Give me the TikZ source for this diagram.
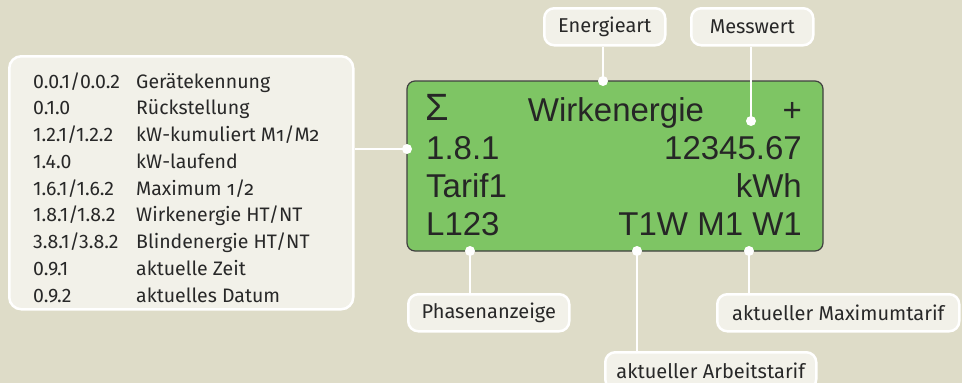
\documentclass[tikz,border=0pt]{standalone}
\usepackage{fontspec}
\setmainfont{Fira Sans}
\newfontfamily\lcdfont{Liberation Sans}
\usetikzlibrary{positioning}
\definecolor{bgcol}{RGB}{222,220,200}
\definecolor{boxcol}{RGB}{242,241,233}
\definecolor{lcdcol}{RGB}{126,197,100}
\definecolor{inkcol}{RGB}{40,40,40}
\newcommand{\osf}[1]{{\addfontfeature{Numbers=OldStyle}#1}}
\tikzstyle{lbl} = [rectangle, rounded corners=10pt, draw=white, line width=2.5pt, fill=boxcol, minimum height=37pt, inner xsep=11pt, text=inkcol, font=\fontsize{20}{24}\selectfont]
\tikzstyle{lcd} = [rectangle, rounded corners=8pt, draw=black!75, line width=1.2pt, fill=lcdcol, minimum width=416pt, minimum height=170pt]
\tikzstyle{lcdtxt} = [inner sep=0pt, text=black!85, font=\lcdfont\fontsize{33}{33}\selectfont]
\tikzstyle{wire} = [draw=white, line width=2.5pt]

\begin{document}
\begin{tikzpicture}[x=1pt, y=-1pt]
    \useasboundingbox (0,0) rectangle (962,383);
    \clip (0,0) rectangle (962,383);
    \fill [bgcol] (0,0) rectangle (962,383);

    % display
    \node (disp) [lcd] at (615,166) {};
    \node (sig)   [lcdtxt, anchor=base west, font=\lcdfont\fontsize{38}{38}\selectfont] at (425,120) {Σ};
    \node (art)   [lcdtxt, anchor=base] at (616,121) {Wirkenergie};
    \node (plus)  [lcdtxt, anchor=base east] at (802,121) {+};
    \node (obis)  [lcdtxt, anchor=base west] at (426,159) {1.8.1};
    \node (wert)  [lcdtxt, anchor=base east] at (802,159) {12345.67};
    \node (tarif) [lcdtxt, anchor=base west] at (426,197) {Tarif1};
    \node (unit)  [lcdtxt, anchor=base east] at (802,197) {kWh};
    \node (phase) [lcdtxt, anchor=base west] at (426,235) {L123};
    \node (flags) [lcdtxt, anchor=base east] at (802,235) {T1W M1 W1};

    \coordinate (dart)   at (603,81);
    \coordinate (dwert)  at (751,121);
    \coordinate (dlist)  at (407,149);
    \coordinate (dphase) at (470,251);
    \coordinate (darb)   at (637,251);
    \coordinate (dmax)   at (749,251);

    % labels
    \node (list) [lbl, rounded corners=12pt, minimum width=344pt, minimum height=253pt, anchor=north west] at (8,55) {};
    \node (listtxt) [anchor=base west, inner sep=0pt, text=inkcol, font=\fontsize{19.5}{26.75}\selectfont] at (33,88) {%
      \begin{tabular}[t]{@{}p{103pt}@{}l@{}}
        0.0.1/0.0.2 & Gerätekennung\\
        0.1.0       & Rückstellung\\
        1.2.1/1.2.2 & kW-kumuliert M\osf{1}/M\osf{2}\\
        1.4.0       & kW-laufend\\
        1.6.1/1.6.2 & Maximum \osf{1/2}\\
        1.8.1/1.8.2 & Wirkenergie HT/NT\\
        3.8.1/3.8.2 & Blindenergie HT/NT\\
        0.9.1       & aktuelle Zeit\\
        0.9.2       & aktuelles Datum
      \end{tabular}};

    \node (lart)   [lbl, minimum width=121pt, anchor=north west] at (543,7) {Energieart};
    \node (lwert)  [lbl, minimum width=122pt, anchor=north west] at (690,7) {Messwert};
    \node (lphase) [lbl, minimum width=161pt, anchor=north west] at (407,293) {Phasenanzeige};
    \node (lmax)   [lbl, minimum width=242pt, anchor=north west] at (716,293) {aktueller Maximumtarif};
    \node (larb)   [lbl, minimum width=211pt, anchor=north west] at (604,351) {aktueller Arbeitstarif};

    \draw [wire] (dart) -- (dart |- lart.south);
    \draw [wire] (dwert) -- (dwert |- lwert.south);
    \draw [wire] (dlist) -- (dlist -| list.east);
    \draw [wire] (dphase) -- (dphase |- lphase.north);
    \draw [wire] (darb) -- (darb |- larb.north);
    \draw [wire] (dmax) -- (dmax |- lmax.north);

    \foreach \d in {dart, dwert, dlist, dphase, darb, dmax}
      \fill [white] (\d) circle (5pt);
\end{tikzpicture}
\end{document}
